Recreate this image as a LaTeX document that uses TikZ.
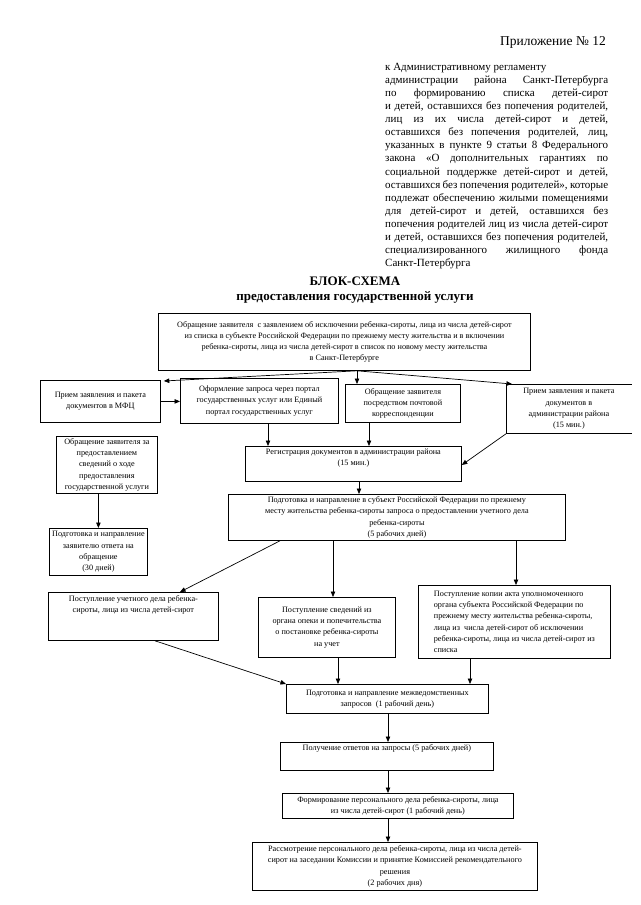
\documentclass[tikz,border=0pt]{standalone}
\usepackage{fontspec}
\setmainfont{Liberation Serif}
\usetikzlibrary{arrows.meta,calc}
\tikzset{
  box/.style={draw, line width=0.8pt, anchor=north west, inner sep=2pt,
    font=\fontsize{8.2}{11.3}\selectfont, align=center},
  wh/.style 2 args={minimum width=#1pt, minimum height=#2pt},
  arr/.style={-{Triangle[length=5.5pt,width=4.5pt]}, line width=0.7pt},
  titletext/.style={font=\bfseries\fontsize{13}{15}\selectfont, inner sep=0pt},
}
\begin{document}
\begin{tikzpicture}[x=1pt,y=-1pt]
\useasboundingbox[fill=white] (0,0) rectangle (640,905);

% heading
\node[anchor=base east, inner sep=0pt, font=\fontsize{13.5}{15}\selectfont] (app) at (606,45) {Приложение № 12};
\node[anchor=north west, inner sep=0pt, align=left, font=\fontsize{11}{13.07}\selectfont] (para) at (385,63) {%
к Административному регламенту\\
\makebox[223pt][s]{администрации района Санкт-Петербурга}\\
\makebox[223pt][s]{по формированию списка детей-сирот}\\
\makebox[223pt][s]{и детей, оставшихся без попечения родителей,}\\
\makebox[223pt][s]{лиц из их числа детей-сирот и детей,}\\
\makebox[223pt][s]{оставшихся без попечения  родителей, лиц,}\\
\makebox[223pt][s]{указанных в пункте 9 статьи 8 Федерального}\\
\makebox[223pt][s]{закона «О дополнительных гарантиях по}\\
\makebox[223pt][s]{социальной поддержке детей-сирот и детей,}\\
\makebox[223pt][s]{оставшихся без попечения родителей», которые}\\
\makebox[223pt][s]{подлежат обеспечению жилыми помещениями}\\
\makebox[223pt][s]{для детей-сирот и детей, оставшихся без}\\
\makebox[223pt][s]{попечения родителей лиц из числа детей-сирот}\\
\makebox[223pt][s]{и детей, оставшихся без попечения родителей,}\\
\makebox[223pt][s]{специализированного жилищного фонда}\\
Санкт-Петербурга};

\node[titletext] (t1) at (355,281) {БЛОК-СХЕМА};
\node[titletext] (t2) at (355,297) {предоставления государственной услуги};

% boxes
\node[box, wh={372}{57}] (top) at (158,313) {Обращение заявителя \ с заявлением об исключении ребенка-сироты, лица из числа детей-сирот\\
из списка в субъекте Российской Федерации по прежнему месту жительства и в включении\\
ребенка-сироты, лица из числа детей-сирот в список по новому месту жительства\\
в Санкт-Петербурге};
\node[box, wh={120}{42}] (mfc) at (40,380) {Прием заявления и пакета\\документов в МФЦ};
\node[box, wh={158}{45}] (portal) at (180,378) {Оформление запроса через портал\\государственных услуг или Единый\\портал государственных услуг};
\node[box, wh={115}{38}] (postal) at (345,384) {Обращение заявителя\\посредством почтовой\\корреспонденции};
\node[box, draw=none, wh={125}{49}] (admin) at (506,384) {Прием заявления и пакета\\документов в\\администрации района\\(15 мин.)};
\draw[line width=0.8pt] (admin.north east) -- (admin.north west) -- (admin.south west) -- (admin.south east);
\node[box, wh={101}{57}] (ask) at (56,436) {Обращение заявителя за\\предоставлением\\сведений о ходе\\предоставления\\государственной услуги};
\node[box, wh={216}{33}] (reg) at (245,446) {Регистрация документов в администрации района\\(15 мин.)\\[3pt]};
\node[box, wh={98}{47}] (reply) at (49,528) {Подготовка и направление\\заявителю ответа на\\обращение\\(30 дней)};
\node[box, wh={337}{46}] (prep) at (228,494) {Подготовка и направление в субъект Российской Федерации по прежнему\\месту жительства ребенка-сироты запроса о предоставлении учетного дела\\ребенка-сироты\\(5 рабочих дней)};
\node[box, wh={170}{48}] (recA) at (48,592) {Поступление учетного дела ребенка-\\сироты, лица из числа детей-сирот\\[14pt]};
\node[box, wh={137}{60}] (recB) at (258,597) {Поступление сведений из\\органа опеки и попечительства\\о постановке ребенка-сироты\\на учет};
\node[box, wh={192}{73}, align=left, inner sep=4pt] (recC) at (418,585) {Поступление копии акта уполномоченного\\органа субъекта Российской Федерации по\\прежнему месту жительства ребенка-сироты,\\лица из \ числа детей-сирот об исключении\\ребенка-сироты, лица из числа детей-сирот из\\списка};
\node[box, wh={202}{29}] (inter) at (286,684) {Подготовка и направление межведомственных\\запросов \ (1 рабочий день)};
\node[box, wh={213}{28}] (ans) at (280,742) {Получение ответов на запросы (5 рабочих дней)\\[6pt]};
\node[box, wh={231}{25}] (form) at (282,793) {Формирование персонального дела ребенка-сироты, лица\\из числа детей-сирот (1 рабочий день)};
\node[box, wh={285}{48}] (rev) at (252,842) {Рассмотрение персонального дела ребенка-сироты, лица из числа детей-\\сирот на заседании Комиссии и принятие Комиссией рекомендательного\\решения\\(2 рабочих дня)};

% connector points
\coordinate (t0) at ($(top.south west)+(199,0)$);
\coordinate (p1) at ($(portal.south west)+(88,0)$);
\coordinate (p2) at ($(postal.south west)+(24,0)$);
\coordinate (p3) at ($(reg.south west)+(114,0)$);
\coordinate (p4) at ($(prep.south west)+(105,0)$);
\coordinate (p5) at ($(prep.south west)+(288,0)$);
\coordinate (p6) at ($(recB.south west)+(80,0)$);
\coordinate (p7) at ($(recC.south west)+(52,0)$);
\coordinate (p8) at ($(inter.south west)+(102,0)$);

% connectors
\draw[arr] (t0) -- ($(mfc.north east)+(3,1)$);
\draw[arr] (t0) -- (t0 |- postal.north);
\draw[arr] (t0) -- ($(admin.north west)+(6,0)$);
\draw[arr] (mfc.east) -- (mfc.east -| portal.west);
\draw[arr] (p1) -- (p1 |- reg.north);
\draw[arr] (p2) -- (p2 |- reg.north);
\draw[arr] (admin.south west) -- ($(reg.north east)+(0,19)$);
\draw[arr] (p3) -- (p3 |- prep.north);
\draw[arr] (reply.north |- ask.south) -- (reply.north);
\draw[arr] ($(prep.south west)+(52,0)$) -- ($(recA.north west)+(132,0)$);
\draw[arr] (p4) -- (p4 |- recB.north);
\draw[arr] (p5) -- (p5 |- recC.north);
\draw[arr] ($(recA.south west)+(107,0)$) -- (inter.north west);
\draw[arr] (p6) -- (p6 |- inter.north);
\draw[arr] (p7) -- (p7 |- inter.north);
\draw[arr] (p8) -- (p8 |- ans.north);
\draw[arr] (p8 |- ans.south) -- (p8 |- form.north);
\draw[arr] (p8 |- form.south) -- (p8 |- rev.north);
\end{tikzpicture}
\end{document}
